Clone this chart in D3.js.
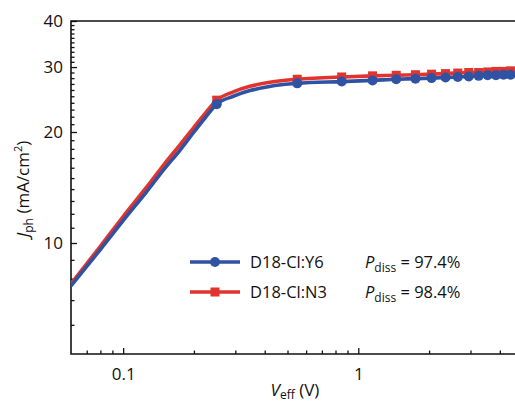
<!DOCTYPE html>
<html>
<head>
<meta charset="utf-8">
<script src="https://cdn.jsdelivr.net/npm/d3@7"></script>
<style>
  body { margin: 0; background: #fff; }
  svg text { font-family: "Open Sans", sans-serif; fill: #111; }
</style>
</head>
<body>
<div id="chart"></div>
<script>
/* DATA */
// photocurrent curves (line), V_eff in volts, J_ph in mA/cm2
const vLine = [0.06, 0.08, 0.1, 0.125, 0.15, 0.175, 0.2, 0.225, 0.25, 0.294, 0.346, 0.408, 0.48, 0.55, 0.85, 1.15, 1.45, 1.75, 2.05, 2.35, 2.65, 2.95, 3.25, 3.55, 3.85, 4.15, 4.45, 4.75];
const jY6Line = [7.65, 9.6, 11.5, 13.7, 15.9, 17.9, 20.0, 22.0, 23.8, 25.0, 25.9, 26.5, 26.9, 27.1, 27.4, 27.6, 27.8, 27.9, 28.0, 28.1, 28.2, 28.3, 28.4, 28.5, 28.5, 28.6, 28.6, 28.7];
const jN3Line = [7.75, 9.8, 11.8, 14.1, 16.4, 18.5, 20.6, 22.6, 24.4, 25.7, 26.6, 27.2, 27.6, 27.8, 28.2, 28.4, 28.5, 28.6, 28.7, 28.8, 28.9, 29.0, 29.0, 29.1, 29.2, 29.2, 29.3, 29.4];

// measured points shown with markers
const vMark = [0.25, 0.55, 0.85, 1.15, 1.45, 1.75, 2.05, 2.35, 2.65, 2.95, 3.25, 3.55, 3.85, 4.15, 4.45];
const jY6Mark = [23.8, 27.1, 27.4, 27.6, 27.8, 27.9, 28.0, 28.1, 28.2, 28.3, 28.4, 28.5, 28.5, 28.6, 28.6];
const jN3Mark = [24.4, 27.8, 28.2, 28.4, 28.5, 28.6, 28.7, 28.8, 28.9, 29.0, 29.0, 29.1, 29.2, 29.2, 29.3];

const xMajor = [0.1, 1];
const xMinor = [0.07, 0.08, 0.09, 0.2, 0.3, 0.4, 0.5, 0.6, 0.7, 0.8, 0.9, 2, 3, 4];
const yMajor = [10, 20, 30, 40];
const yMinor = [6, 7, 8, 9, 11, 12, 13, 14, 15, 16, 17, 18, 19,
  21, 22, 23, 24, 25, 26, 27, 28, 29, 31, 32, 33, 34, 35, 36, 37, 38, 39];

const seriesNames = ["D18-Cl:Y6", "D18-Cl:N3"];
const pdiss = ["97.4%", "98.4%"];

/* LAYOUT */
const W = 515, H = 404;
const margin = { left: 71, top: 21, bottom: 354, right: 515 };
const BLUE = "#2f52a3", RED = "#e0342f";

const svg = d3.select("#chart").append("svg")
  .attr("width", W).attr("height", H);

const x = d3.scaleLog().domain([0.06, 4.64]).range([margin.left, margin.right]);
const y = d3.scaleLog().domain([5, 40]).range([margin.bottom, margin.top]);

svg.append("clipPath").attr("id", "plot-clip")
  .append("rect").attr("x", margin.left).attr("y", margin.top)
  .attr("width", margin.right - margin.left).attr("height", margin.bottom - margin.top);

/* AXES */
function styleAxis(g) {
  g.select(".domain").remove();
  g.selectAll("line").attr("stroke", "#111").attr("stroke-width", 1.3);
  g.selectAll("text").style("font-size", "17px");
}

// ticks point inward
svg.append("g")
  .attr("transform", `translate(0,${margin.bottom})`)
  .call(d3.axisBottom(x).tickValues(xMajor).tickSize(-6).tickPadding(14)
    .tickFormat(d3.format("~g")))
  .call(styleAxis);
svg.append("g")
  .attr("transform", `translate(0,${margin.bottom})`)
  .call(d3.axisBottom(x).tickValues(xMinor).tickSize(-3.5).tickFormat(""))
  .call(styleAxis);

svg.append("g")
  .attr("transform", `translate(${margin.left},0)`)
  .call(d3.axisLeft(y).tickValues(yMajor).tickSize(-6).tickPadding(8)
    .tickFormat(d3.format("d")))
  .call(styleAxis);
svg.append("g")
  .attr("transform", `translate(${margin.left},0)`)
  .call(d3.axisLeft(y).tickValues(yMinor).tickSize(-3.5).tickFormat(""))
  .call(styleAxis);

// frame lines
svg.append("path")
  .attr("d", `M${margin.right},${margin.top}H${margin.left}V${margin.bottom}H${margin.right}`)
  .attr("fill", "none").attr("stroke", "#111").attr("stroke-width", 1.6);

/* SERIES */
const plot = svg.append("g").attr("clip-path", "url(#plot-clip)");
const line = d3.line()
  .x((d) => x(d[0])).y((d) => y(d[1]))
  .curve(d3.curveMonotoneX);

function drawSeries(jLine, jMark, color, shape) {
  plot.append("path")
    .datum(d3.zip(vLine, jLine))
    .attr("d", line)
    .attr("fill", "none").attr("stroke", color)
    .attr("stroke-width", 3.6).attr("stroke-linejoin", "round");
  const pts = d3.zip(vMark, jMark);
  if (shape === "square") {
    plot.append("g").selectAll("rect").data(pts).enter().append("rect")
      .attr("x", (d) => x(d[0]) - 4.5).attr("y", (d) => y(d[1]) - 4.5)
      .attr("width", 9).attr("height", 9).attr("fill", color);
  } else {
    plot.append("g").selectAll("circle").data(pts).enter().append("circle")
      .attr("cx", (d) => x(d[0])).attr("cy", (d) => y(d[1]))
      .attr("r", 5).attr("fill", color);
  }
}

drawSeries(jN3Line, jN3Mark, RED, "square");
drawSeries(jY6Line, jY6Mark, BLUE, "circle");

/* AXIS TITLES */
const xt = svg.append("text")
  .attr("x", 295).attr("y", 396).attr("text-anchor", "middle")
  .style("font-size", "17px");
xt.append("tspan").attr("font-style", "italic").text("V");
xt.append("tspan").attr("dy", 3).style("font-size", "12px").text("eff");
xt.append("tspan").attr("dy", -3).text(" (V)");

const yt = svg.append("text")
  .attr("transform", "translate(29,189) rotate(-90)")
  .attr("text-anchor", "middle")
  .style("font-size", "17px");
yt.append("tspan").attr("font-style", "italic").text("J");
yt.append("tspan").attr("dy", 4).style("font-size", "12px").text("ph");
yt.append("tspan").attr("dy", -4).text(" (mA/cm");
yt.append("tspan").attr("dy", -7).style("font-size", "11px").text("2");
yt.append("tspan").attr("dy", 7).text(")");

/* LEGEND */
const legend = svg.append("g");
const legColors = [BLUE, RED];
seriesNames.forEach((name, i) => {
  const ly = 262 + i * 30;
  const g = legend.append("g");
  g.append("line").attr("x1", 190).attr("x2", 240).attr("y1", ly).attr("y2", ly)
    .attr("stroke", legColors[i]).attr("stroke-width", 3.6);
  if (i === 0) {
    g.append("circle").attr("cx", 215).attr("cy", ly).attr("r", 5).attr("fill", legColors[i]);
  } else {
    g.append("rect").attr("x", 210.5).attr("y", ly - 4.5).attr("width", 9).attr("height", 9)
      .attr("fill", legColors[i]);
  }
  g.append("text").attr("x", 250).attr("y", ly + 6).style("font-size", "16.5px").text(name);
  const t = g.append("text").attr("x", 365).attr("y", ly + 6).style("font-size", "16.5px");
  t.append("tspan").attr("font-style", "italic").text("P");
  t.append("tspan").attr("dy", 4).style("font-size", "12px").text("diss");
  t.append("tspan").attr("dy", -4).text(" = " + pdiss[i]);
});
</script>
</body>
</html>
